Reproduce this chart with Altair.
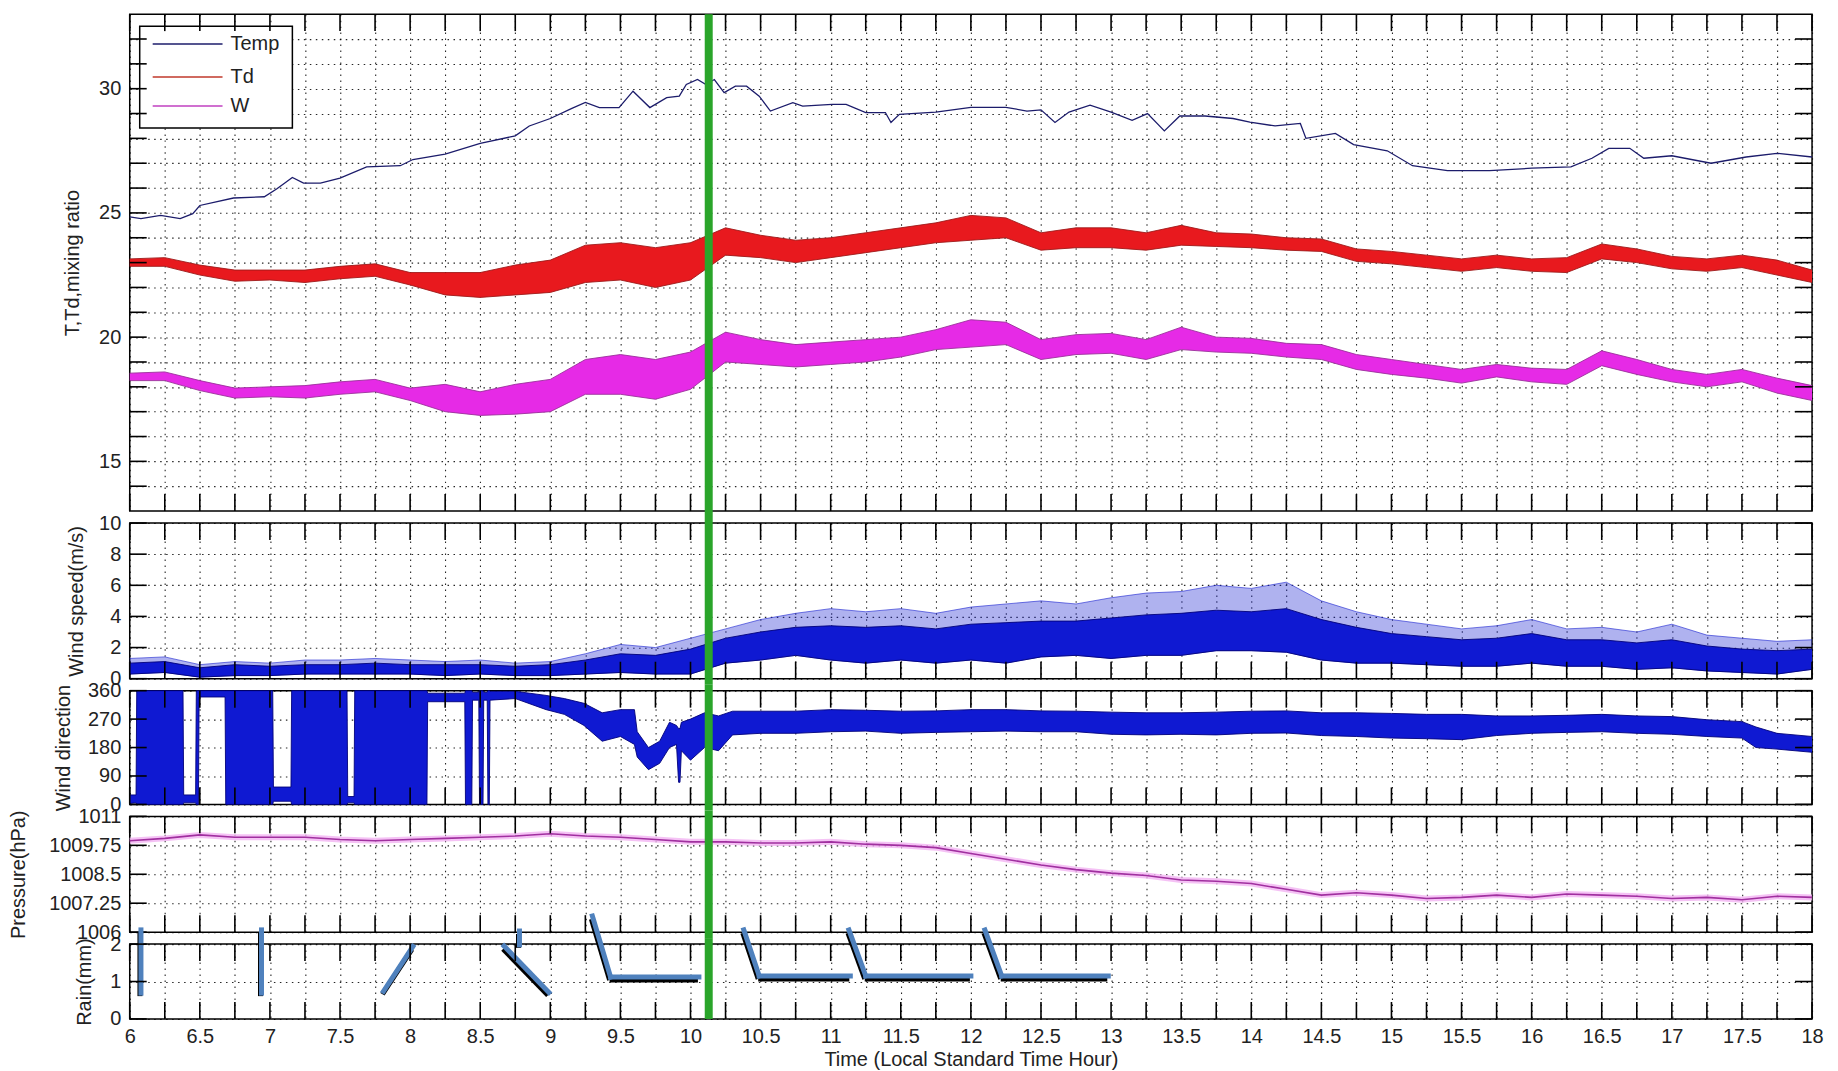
import altair as alt
import pandas as pd

# ---------------- data ----------------
X_TICKS = [6.0 + 0.25 * i for i in range(49)]          # tick / grid positions (hours)
TIME_GRID = [6.0 + 0.25 * i for i in range(49)]        # sampling times of banded series
GREEN_T = [10.13]

T_TIME = [6.0, 6.08, 6.22, 6.36, 6.45, 6.5, 6.74, 6.96, 7.05, 7.16,
          7.24, 7.36, 7.5, 7.69, 7.93, 8.02, 8.25, 8.5, 8.75, 8.85,
          9.0, 9.15, 9.25, 9.35, 9.49, 9.59, 9.71, 9.83, 9.92, 9.97,
          10.05, 10.11, 10.17, 10.24, 10.32, 10.40, 10.49, 10.57, 10.73, 10.80,
          11.01, 11.11, 11.25, 11.39, 11.43, 11.49, 11.75, 12.0, 12.25, 12.4,
          12.5, 12.6, 12.7, 12.85, 13.0, 13.15, 13.26, 13.38, 13.49, 13.67,
          13.87, 13.99, 14.17, 14.35, 14.39, 14.6, 14.73, 14.97, 15.15, 15.4,
          15.7, 16.0, 16.28, 16.43, 16.55, 16.7, 16.8, 17.0, 17.28, 17.53,
          17.75, 18.0]
T_VAL = [24.84, 24.77, 24.9, 24.77, 24.97, 25.3, 25.6, 25.65, 25.97, 26.43,
         26.2, 26.2, 26.4, 26.85, 26.9, 27.15, 27.37, 27.8, 28.1, 28.5,
         28.8, 29.2, 29.45, 29.24, 29.24, 29.9, 29.24, 29.64, 29.7, 30.17,
         30.37, 30.17, 30.37, 29.84, 30.1, 30.1, 29.7, 29.1, 29.44, 29.3,
         29.37, 29.37, 29.04, 29.04, 28.64, 28.97, 29.06, 29.25, 29.25, 29.1,
         29.15, 28.64, 29.06, 29.34, 29.06, 28.73, 29.0, 28.3, 28.9, 28.9,
         28.8, 28.65, 28.5, 28.6, 28.0, 28.2, 27.75, 27.5, 26.9, 26.7,
         26.7, 26.8, 26.85, 27.2, 27.6, 27.6, 27.2, 27.3, 27.0, 27.25,
         27.4, 27.25]

TD_LO = [22.85, 22.85, 22.5, 22.25, 22.3, 22.2, 22.35, 22.45, 22.1, 21.7,
         21.6, 21.7, 21.8, 22.2, 22.3, 22.0, 22.3, 23.3, 23.2, 23.0,
         23.2, 23.4, 23.6, 23.8, 23.9, 24.0, 23.5, 23.6, 23.6, 23.5,
         23.7, 23.65, 23.6, 23.5, 23.45, 23.05, 22.95, 22.8, 22.65, 22.8,
         22.65, 22.6, 23.15, 23.0, 22.75, 22.65, 22.8, 22.5, 22.2]
TD_HI = [23.15, 23.2, 22.9, 22.7, 22.7, 22.7, 22.85, 22.95, 22.6, 22.6,
         22.6, 22.9, 23.1, 23.7, 23.8, 23.6, 23.8, 24.4, 24.1, 23.9,
         24.0, 24.2, 24.4, 24.6, 24.9, 24.8, 24.2, 24.4, 24.4, 24.2,
         24.5, 24.2, 24.15, 24.0, 23.95, 23.55, 23.45, 23.3, 23.15, 23.3,
         23.15, 23.2, 23.75, 23.55, 23.25, 23.15, 23.3, 23.1, 22.7]

W_LO = [18.25, 18.25, 17.85, 17.55, 17.6, 17.55, 17.7, 17.8, 17.45, 17.0,
        16.85, 16.9, 17.0, 17.7, 17.7, 17.5, 17.9, 19.0, 18.9, 18.8,
        18.9, 19.0, 19.2, 19.5, 19.6, 19.7, 19.1, 19.3, 19.35, 19.1,
        19.5, 19.4, 19.35, 19.2, 19.1, 18.7, 18.5, 18.35, 18.15, 18.4,
        18.2, 18.1, 18.85, 18.5, 18.2, 18.0, 18.2, 17.75, 17.45]
W_HI = [18.55, 18.6, 18.25, 17.95, 18.0, 18.05, 18.2, 18.3, 17.95, 18.1,
        17.8, 18.1, 18.3, 19.1, 19.3, 19.1, 19.4, 20.2, 19.9, 19.7,
        19.8, 19.9, 20.0, 20.3, 20.7, 20.6, 19.9, 20.1, 20.15, 19.9,
        20.4, 20.0, 19.95, 19.75, 19.7, 19.3, 19.1, 18.9, 18.7, 18.9,
        18.75, 18.7, 19.45, 19.1, 18.7, 18.5, 18.7, 18.35, 18.05]

WS_LO = [0.3, 0.4, 0.1, 0.2, 0.2, 0.3, 0.3, 0.3, 0.3, 0.2,
         0.3, 0.2, 0.2, 0.3, 0.4, 0.3, 0.3, 1.0, 1.2, 1.5,
         1.2, 1.0, 1.2, 1.0, 1.2, 1.0, 1.4, 1.5, 1.3, 1.5,
         1.5, 1.8, 1.8, 1.7, 1.2, 1.0, 1.0, 0.9, 0.8, 0.8,
         1.0, 0.8, 0.8, 0.6, 0.7, 0.5, 0.4, 0.3, 0.6]
WS_CORE_HI = [1.0, 1.1, 0.7, 0.9, 0.8, 0.9, 0.9, 1.0, 0.9, 0.9,
              0.9, 0.8, 0.9, 1.2, 1.6, 1.5, 1.9, 2.6, 3.0, 3.3,
              3.4, 3.3, 3.4, 3.2, 3.5, 3.6, 3.7, 3.7, 3.9, 4.1,
              4.2, 4.4, 4.3, 4.5, 3.8, 3.3, 2.9, 2.7, 2.5, 2.6,
              2.9, 2.5, 2.5, 2.3, 2.5, 2.1, 1.9, 1.8, 1.9]
WS_PEAK = [1.3, 1.4, 0.9, 1.1, 1.0, 1.2, 1.2, 1.3, 1.2, 1.1,
           1.2, 1.0, 1.1, 1.6, 2.2, 2.0, 2.6, 3.2, 3.8, 4.2,
           4.5, 4.3, 4.5, 4.2, 4.6, 4.8, 5.0, 4.8, 5.2, 5.5,
           5.6, 6.0, 5.8, 6.2, 5.0, 4.3, 3.8, 3.5, 3.2, 3.4,
           3.8, 3.2, 3.3, 3.0, 3.5, 2.8, 2.6, 2.4, 2.5]

WD_T = [6.00, 6.045, 6.05, 6.38, 6.385, 6.47, 6.475, 6.49, 6.495, 6.68,
        6.685, 7.02, 7.025, 7.15, 7.155, 7.55, 7.555, 7.60, 7.605, 8.12,
        8.125, 8.39, 8.395, 8.44, 8.445, 8.49, 8.495, 8.52, 8.525, 8.55,
        8.555, 8.565, 8.57, 8.75, 8.97, 9.10, 9.24, 9.37, 9.50, 9.60,
        9.62, 9.70, 9.78, 9.85, 9.90, 9.915, 9.925, 9.935, 10.00, 10.10,
        10.20, 10.30, 10.50, 10.75, 11.00, 11.25, 11.50, 11.75, 12.00, 12.25,
        12.50, 12.75, 13.00, 13.25, 13.50, 13.75, 14.00, 14.25, 14.50, 14.75,
        15.00, 15.25, 15.50, 15.75, 16.00, 16.25, 16.50, 16.75, 17.00, 17.25,
        17.50, 17.60, 17.75, 18.00]
WD_LO = [3, 5, 0, 0, 5, 5, 0, 0, 340, 340,
         0, 0, 10, 10, 0, 0, 5, 5, 0, 0,
         325, 325, 0, 0, 330, 330, 0, 0, 330, 330,
         0, 0, 330, 335, 300, 285, 250, 200, 215, 190,
         150, 110, 130, 180, 190, 70, 70, 170, 140, 180,
         170, 220, 225, 225, 230, 232, 225, 228, 230, 232,
         230, 230, 222, 220, 222, 220, 225, 226, 218, 215,
         210, 208, 205, 218, 225, 228, 230, 225, 222, 215,
         210, 180, 175, 165]
WD_HI = [30, 30, 360, 360, 30, 30, 360, 360, 360, 360,
         360, 360, 55, 55, 360, 360, 25, 25, 360, 360,
         352, 352, 360, 360, 355, 355, 360, 360, 355, 355,
         360, 360, 358, 358, 345, 335, 320, 290, 300, 300,
         230, 180, 200, 260, 250, 240, 240, 260, 270, 290,
         280, 295, 295, 295, 300, 298, 295, 296, 300, 300,
         296, 295, 292, 290, 290, 292, 295, 296, 290, 290,
         288, 285, 285, 280, 280, 282, 285, 280, 278, 268,
         262, 245, 225, 215]

P_VAL = [1009.95, 1010.05, 1010.2, 1010.1, 1010.1, 1010.1, 1010.0, 1009.95, 1010.0, 1010.05,
         1010.1, 1010.15, 1010.25, 1010.15, 1010.1, 1010.0, 1009.9, 1009.9, 1009.85, 1009.85,
         1009.9, 1009.8, 1009.75, 1009.65, 1009.4, 1009.15, 1008.9, 1008.7, 1008.55, 1008.45,
         1008.25, 1008.2, 1008.1, 1007.85, 1007.6, 1007.7, 1007.6, 1007.45, 1007.5, 1007.6,
         1007.5, 1007.65, 1007.6, 1007.55, 1007.45, 1007.5, 1007.4, 1007.55, 1007.5]

# wind-barb segments drawn in the rain panel (hour, mm)
BARB_X1 = [6.08, 6.94, 7.81, 8.67, 8.78, 9.30, 9.43, 10.38, 10.49, 11.13, 11.25, 12.10, 12.22]
BARB_Y1 = [2.38, 2.38, 0.74, 1.95, 2.35, 2.75, 1.12, 2.38, 1.15, 2.38, 1.15, 2.38, 1.15]
BARB_X2 = [6.08, 6.94, 8.02, 8.99, 8.78, 9.43, 10.06, 10.49, 11.14, 11.25, 12.00, 12.22, 12.98]
BARB_Y2 = [0.69, 0.69, 1.94, 0.71, 1.98, 1.12, 1.12, 1.15, 1.15, 1.15, 1.15, 1.15, 1.15]

LEGEND_LABELS = ["Temp", "Td", "W"]
LEGEND_COLORS = ["#1c1c6b", "#c0392b", "#c040c0"]

Y1_TICKS = list(range(14, 33))
Y2_TICKS = [0, 2, 4, 6, 8, 10]
Y3_TICKS = [0, 90, 180, 270, 360]
Y4_TICKS = [1006, 1007.25, 1008.5, 1009.75, 1011]
Y5_TICKS = [0, 1, 2]

# ---------------- layout / style ----------------
PW = 1686
HEIGHTS = [498, 156, 114, 116, 75]
TICK = 17
GREEN = "#2aa52a"
FONT = "Liberation Sans"
LBL = "toString(datum.value)"

XSCALE = alt.Scale(domain=[6, 18], nice=False, zero=False)
XAXIS_INNER = alt.Axis(values=X_TICKS, labels=False, ticks=False, domain=False,
                       title=None, grid=True)
XAXIS_BOTTOM = alt.Axis(values=X_TICKS,
                        labelExpr="datum.value % 0.5 == 0 ? toString(datum.value) : ''",
                        ticks=False, domain=False, labelPadding=8, labelOverlap=False,
                        labelFlush=False, title="Time (Local Standard Time Hour)",
                        titlePadding=3, grid=True)


def yaxis(values, title, title_x, h, label_expr=LBL):
    return alt.Axis(values=values, title=title, titleX=title_x, titleY=h / 2, titleAngle=270,
                    titleAlign="center", titleBaseline="middle", grid=True, ticks=False,
                    domain=False, labelPadding=9, labelOverlap=False, labelExpr=label_expr)


def panel(layers_fn, h, ydom, yticks, ytitle, title_x, bottom=False, label_expr=LBL,
          green_top=-6, green_bottom=None):
    xaxis = XAXIS_BOTTOM if bottom else XAXIS_INNER
    yax = yaxis(yticks, ytitle, title_x, h, label_expr)
    ysc = alt.Scale(domain=ydom, nice=False, zero=False)

    def X(f):
        return alt.X(f"{f}:Q", scale=XSCALE, axis=xaxis)

    def Y(f):
        return alt.Y(f"{f}:Q", scale=ysc, axis=yax)

    layers = layers_fn(X, Y)
    xt = pd.DataFrame({"t": X_TICKS})
    yt = pd.DataFrame({"v": yticks})
    tick_style = dict(color="black", strokeWidth=1.6)
    layers += [
        alt.Chart(xt).mark_rule(**tick_style).encode(x=X("t"), y=alt.value(h), y2=alt.value(h - TICK)),
        alt.Chart(xt).mark_rule(**tick_style).encode(x=X("t"), y=alt.value(0), y2=alt.value(TICK)),
        alt.Chart(yt).mark_rule(**tick_style).encode(y=Y("v"), x=alt.value(0), x2=alt.value(TICK)),
        alt.Chart(yt).mark_rule(**tick_style).encode(y=Y("v"), x=alt.value(PW - TICK), x2=alt.value(PW)),
        alt.Chart(pd.DataFrame({"t": GREEN_T})).mark_rule(color=GREEN, strokeWidth=8).encode(
            x=X("t"), y=alt.value(green_top),
            y2=alt.value(h + 6 if green_bottom is None else green_bottom)),
    ]
    return alt.layer(*layers).properties(width=PW, height=h)


def band_layers(X, Y, t, lo, hi, fill, edge, opacity=1.0, edge_w=0.9):
    df = pd.DataFrame({"t": t, "lo": lo, "hi": hi})
    return [
        alt.Chart(df).mark_area(color=fill, opacity=opacity).encode(x=X("t"), y=Y("lo"), y2=alt.Y2("hi")),
        alt.Chart(df).mark_line(color=edge, strokeWidth=edge_w).encode(x=X("t"), y=Y("lo")),
        alt.Chart(df).mark_line(color=edge, strokeWidth=edge_w).encode(x=X("t"), y=Y("hi")),
    ]


# ---- panel 1: T, Td, W ----
def p1_layers(X, Y):
    tdf = pd.DataFrame({"t": T_TIME, "v": T_VAL})
    layers = []
    layers += band_layers(X, Y, TIME_GRID, TD_LO, TD_HI, "#e8191e", "#9e1a1a")
    layers += band_layers(X, Y, TIME_GRID, W_LO, W_HI, "#e62ae6", "#9a2f9a")
    layers.append(alt.Chart(tdf).mark_line(color="#1c1c6b", strokeWidth=1.3).encode(x=X("t"), y=Y("v")))
    one = pd.DataFrame({"k": [0]})
    layers.append(alt.Chart(one).mark_rect(fill="white", stroke="black", strokeWidth=1.5).encode(
        x=alt.value(10), x2=alt.value(163), y=alt.value(12), y2=alt.value(114)))
    for lbl, col, yy in zip(LEGEND_LABELS, LEGEND_COLORS, [30, 63, 92]):
        layers.append(alt.Chart(one).mark_rule(color=col, strokeWidth=1.5).encode(
            x=alt.value(23), x2=alt.value(93), y=alt.value(yy)))
        layers.append(alt.Chart(one).mark_text(align="left", baseline="middle", font=FONT,
                                               fontSize=20, color="#222").encode(
            x=alt.value(101), y=alt.value(yy), text=alt.value(lbl)))
    return layers


def p2_layers(X, Y):
    layers = []
    layers += band_layers(X, Y, TIME_GRID, WS_LO, WS_PEAK, "#1a22d0", "#1a22d0", opacity=0.35, edge_w=0.6)
    layers += band_layers(X, Y, TIME_GRID, WS_LO, WS_CORE_HI, "#0f19d2", "#00007a")
    return layers


def p3_layers(X, Y):
    return band_layers(X, Y, WD_T, WD_LO, WD_HI, "#0f19d2", "#00007a")


def p4_layers(X, Y):
    df = pd.DataFrame({"t": TIME_GRID, "p": P_VAL})
    return [
        alt.Chart(df).mark_line(color="#f2b3f2", strokeWidth=6, opacity=0.8).encode(x=X("t"), y=Y("p")),
        alt.Chart(df).mark_line(color="#a0309f", strokeWidth=1.6).encode(x=X("t"), y=Y("p")),
    ]


def p5_layers(X, Y):
    df = pd.DataFrame({"x1": BARB_X1, "y1": BARB_Y1, "x2": BARB_X2, "y2": BARB_Y2})
    enc = dict(x=X("x1"), y=Y("y1"), x2=alt.X2("x2"), y2=alt.Y2("y2"))
    return [
        alt.Chart(df).mark_rule(color="black", strokeWidth=5, xOffset=-1, yOffset=3,
                                x2Offset=-1, y2Offset=3).encode(**enc),
        alt.Chart(df).mark_rule(color="#4f81bd", strokeWidth=5, strokeCap="square").encode(**enc),
    ]


c1 = panel(p1_layers, HEIGHTS[0], [13, 33], Y1_TICKS, "T,Td,mixing ratio", -57,
           label_expr="datum.value % 5 == 0 ? toString(datum.value) : ''", green_top=0)
c2 = panel(p2_layers, HEIGHTS[1], [0, 10], Y2_TICKS, "Wind speed(m/s)", -53)
c3 = panel(p3_layers, HEIGHTS[2], [0, 360], Y3_TICKS, "Wind direction", -66)
c4 = panel(p4_layers, HEIGHTS[3], [1006, 1011], Y4_TICKS, "Pressure(hPa)", -111)
c5 = panel(p5_layers, HEIGHTS[4], [0, 2], Y5_TICKS, "Rain(mm)", -45, bottom=True,
           green_bottom=HEIGHTS[4])

chart = alt.vconcat(c1, c2, c3, c4, c5, spacing=12, bounds="flush").properties(
    padding={"left": 0, "top": 0, "right": 5, "bottom": 0}, background="white"
).configure_view(stroke="black", strokeWidth=1.5).configure_axis(
    gridColor="black", gridDash=[1.5, 4.5], gridOpacity=0.85, gridWidth=1.1,
    labelFont=FONT, labelFontSize=20, labelColor="#222",
    titleFont=FONT, titleFontSize=20, titleFontWeight="normal", titleColor="#222",
)

chart.save("out.html", embed_options={"renderer": "svg", "actions": False})
